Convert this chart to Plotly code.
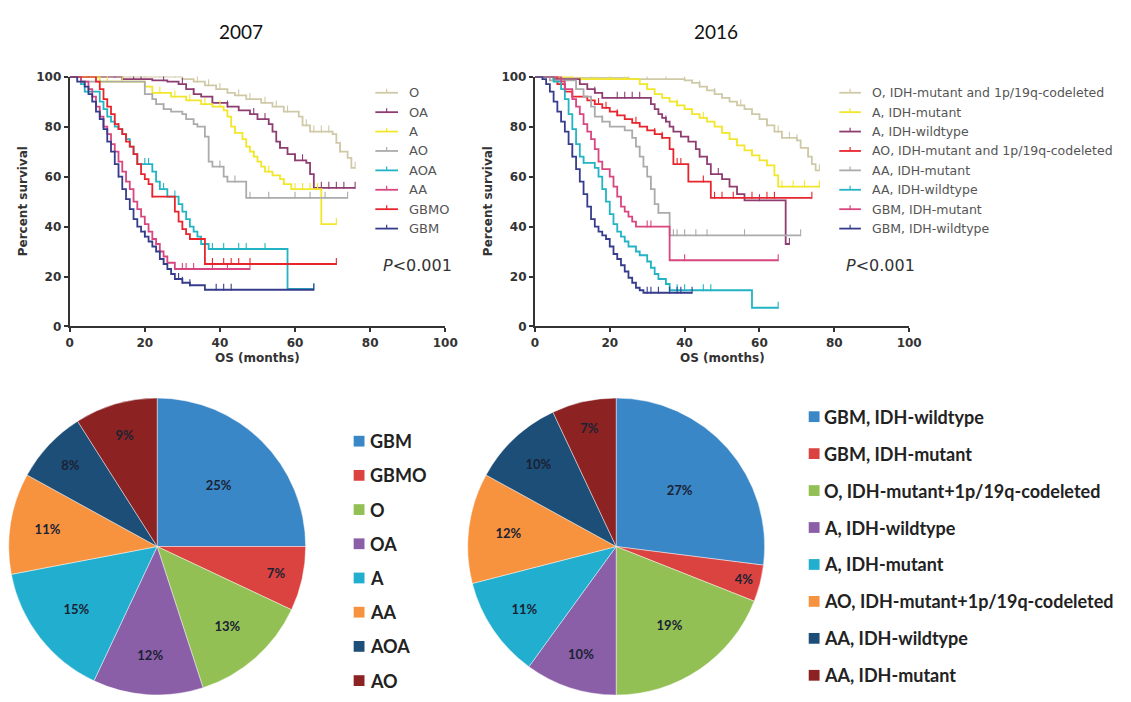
import numpy as np
import plotly.graph_objects as go

W, H = 1131, 702

# ---------------- Kaplan-Meier curves, WHO 2007 classification ----------------
groups_2007 = ["O", "OA", "A", "AO", "AOA", "AA", "GBMO", "GBM"]
colors_2007 = ["#CFC9A7", "#8E3D70", "#F2E62A", "#ABABAB", "#22B4C4", "#D8467F", "#E8242C", "#363C8C"]

O07_t = [0, 30, 33, 36, 39, 42, 44, 47, 51, 54, 57, 61, 62, 64, 70, 71, 72, 74, 75]
O07_s = [100, 99, 98, 96.5, 95, 93.5, 92.5, 91, 89.5, 88, 86, 84, 80.5, 78, 77, 73.5, 70, 67.5, 63.5]
O07_c = [4, 8, 12, 16, 20, 24, 28, 34, 37, 40, 45, 48, 52, 55, 58, 63, 65, 67, 69, 72, 76]
O07_end = 76

OA07_t = [0, 14, 22, 26, 29, 31, 33, 35, 38, 42, 45, 48, 50, 53, 54, 55, 56, 58, 60, 63, 64, 65]
OA07_s = [100, 99, 98.5, 98, 97, 95, 93, 92, 89.5, 88, 86.5, 85, 83, 81, 78, 74, 71.5, 69, 66.5, 65.5, 61, 55.5]
OA07_c = [5, 8, 12, 17, 19, 25, 30, 33, 38, 42, 49, 52, 56, 60, 62, 67, 69, 71, 73, 76]
OA07_end = 76

A07_t = [0, 8, 20, 22, 27, 31, 35, 38, 41, 42, 43, 44, 46, 47, 48, 49, 50, 51, 52, 54, 56, 57, 59, 67]
A07_s = [100, 98, 96, 93.5, 92, 90.5, 89, 88, 86.5, 84, 80, 77.5, 75, 72, 70, 68, 66, 64, 62, 60.5, 59, 57, 55, 41]
A07_c = [4, 6, 10, 14, 24, 28, 32, 36, 40, 44, 49, 53, 57, 60, 62, 64, 66, 71]
A07_end = 71

AO07_t = [0, 3, 20, 22, 23, 25, 27, 30, 31, 33, 34, 36, 37, 38, 41, 42, 47]
AO07_s = [100, 98, 93, 91, 89, 87, 86, 85, 83, 81, 80, 76, 66, 64, 60, 58, 51.5]
AO07_c = [25, 40, 44, 48, 53, 60, 64, 68, 74]
AO07_end = 74

AOA07_t = [0, 3, 4, 8, 9, 10, 11, 12, 13, 14, 15, 16, 17, 18, 22, 23, 24, 26, 29, 30, 31, 32, 33, 34, 35, 37, 58]
AOA07_s = [100, 97, 94, 90, 87, 84, 82, 80, 79, 77, 75, 72, 69, 65, 62, 58, 55, 52, 49, 46, 43, 40, 38, 36, 33, 31, 15]
AOA07_c = [20, 21, 25, 28, 38, 41, 45, 47, 52, 65]
AOA07_end = 65

AA07_t = [0, 3, 5, 6, 7, 8, 9, 10, 11, 12, 13, 14, 15, 16, 17, 18, 19, 20, 21, 22, 23, 24, 25, 26, 28]
AA07_s = [100, 98, 95, 92, 88, 84, 80, 77, 73, 70, 66, 62, 58, 55, 50, 47, 44, 41, 38, 35, 33, 30, 28, 25.5, 23]
AA07_c = [30, 31, 33, 38, 42, 48]
AA07_end = 48

GBMO07_t = [0, 7, 8, 9, 10, 11, 12, 13, 14, 15, 16, 17, 18, 19, 20, 21, 22, 28, 29, 30, 31, 32, 36]
GBMO07_s = [100, 98, 95, 91, 88, 85, 81, 79, 77, 74, 72, 69, 65, 61, 59, 57, 52, 46, 42, 39, 37, 35, 25]
GBMO07_c = [13, 22, 38, 41, 43, 45, 48, 71]
GBMO07_end = 71

GBM07_t = [0, 2, 4, 5, 6, 7, 8, 9, 10, 11, 12, 13, 14, 15, 16, 17, 18, 19, 20, 21, 22, 23, 24, 25, 26, 27, 28, 30, 32, 36]
GBM07_s = [100, 98, 96, 93, 90, 86, 83, 79, 74, 70, 65, 60, 55, 51, 47, 43, 40, 38, 36, 34, 32, 30, 27, 25, 23, 21, 19, 17.5, 16.5, 14.7]
GBM07_c = [8, 13, 20, 25, 29, 30, 32, 39, 41, 43, 65]
GBM07_end = 65

# ---------------- Kaplan-Meier curves, WHO 2016 classification ----------------
groups_2016 = ["O, IDH-mutant and 1p/19q-codeleted", "A, IDH-mutant", "A, IDH-wildtype",
               "AO, IDH-mutant and 1p/19q-codeleted", "AA, IDH-mutant", "AA, IDH-wildtype",
               "GBM, IDH-mutant", "GBM, IDH-wildtype"]
colors_2016 = ["#CFC9A7", "#F2E62A", "#8E3D70", "#E8242C", "#ABABAB", "#22B4C4", "#D8467F", "#363C8C"]

O16_t = [0, 5, 25, 40, 42, 44, 46, 48, 50, 52, 54, 56, 58, 60, 62, 64, 66, 70, 71, 73, 74, 75]
O16_s = [100, 99.5, 99, 98.5, 97.5, 96, 94.5, 93, 91.5, 90, 88.5, 87, 85, 83, 80.5, 78, 75.5, 74.5, 71.5, 68, 65, 62.5]
O16_c = [5, 10, 15, 20, 25, 30, 35, 40, 44, 48, 55, 62, 65, 68, 70, 73, 76]
O16_end = 76

Amut16_t = [0, 10, 28, 30, 32, 34, 36, 38, 40, 42, 44, 46, 48, 50, 52, 54, 56, 58, 60, 62, 64, 65]
Amut16_s = [100, 99, 97, 95, 93, 91.5, 90, 88.5, 87, 85, 83.5, 82, 80, 77.5, 75, 72.5, 70.5, 68.5, 66.5, 64.5, 60.5, 56]
Amut16_c = [4, 8, 12, 16, 20, 24, 30, 38, 45, 52, 58, 66, 69, 72, 76]
Amut16_end = 76

Awt16_t = [0, 5, 12, 14, 16, 18, 31, 32, 33, 34, 35, 36, 37, 39, 41, 43, 44, 46, 47, 50, 52, 54, 56, 67]
Awt16_s = [100, 99, 97, 95, 93.5, 91.5, 89, 87, 85, 83.5, 82, 80, 78, 76, 74, 71, 68, 65, 61, 59, 56, 53, 50.5, 33]
Awt16_c = [16, 22, 24, 26, 28, 35, 44, 49, 60, 68]
Awt16_end = 68

AO16_t = [0, 6, 8, 10, 14, 16, 18, 20, 22, 24, 26, 28, 30, 32, 34, 36, 37, 41, 47]
AO16_s = [100, 97, 94, 92, 90.5, 89, 87.5, 86, 84.5, 83, 81.5, 80, 78.5, 77, 75.5, 71, 65, 58, 51.5]
AO16_c = [10, 17, 19, 22, 27, 32, 34, 38, 39, 45, 48, 50, 53, 58, 62, 64, 74]
AO16_end = 74

AAmut16_t = [0, 4, 11, 13, 15, 16, 18, 20, 24, 26, 27, 28, 29, 30, 31, 32, 33, 36]
AAmut16_s = [100, 98.5, 95, 92, 88, 84, 82, 80, 78.5, 75.5, 72, 68, 64, 60, 55, 49, 45.5, 36.5]
AAmut16_c = [18, 33, 37, 38, 40, 43, 46, 56, 71]
AAmut16_end = 71

AAwt16_t = [0, 5, 7, 8, 9, 10, 11, 12, 13, 16, 17, 18, 19, 20, 21, 22, 23, 24, 25, 27, 28, 30, 31, 32, 33, 35, 36, 58]
AAwt16_s = [100, 98, 95, 91, 85, 79, 73, 68, 65.5, 63.5, 60, 55, 50, 45, 41, 38, 36, 34, 32, 30, 28.5, 26, 23.5, 21, 19, 17, 14.5, 7.5]
AAwt16_c = [13, 38, 40, 45, 47, 65]
AAwt16_end = 65

GBMmut16_t = [0, 7, 8, 10, 11, 12, 13, 14, 15, 16, 17, 18, 20, 21, 22, 23, 24, 25, 26, 27, 36]
GBMmut16_s = [100, 98, 95, 91, 88, 85, 81, 78, 75, 71, 66, 63, 60, 56, 52, 48, 46, 44, 42, 40, 26.5]
GBMmut16_c = [30, 31, 40, 65]
GBMmut16_end = 65

GBMwt16_t = [0, 2, 3, 4, 5, 6, 7, 8, 9, 10, 11, 12, 13, 14, 15, 16, 17, 18, 19, 20, 21, 22, 23, 24, 25, 26, 27, 28, 29]
GBMwt16_s = [100, 99, 97, 94, 90, 86, 82, 78, 73, 68, 63, 58, 53, 48, 43, 40, 38, 36.5, 35, 32, 29, 27, 24.5, 22, 19.5, 17.5, 15.5, 14.5, 13.5]
GBMwt16_c = [10, 30, 31, 33, 36, 38, 39, 42]
GBMwt16_end = 42

curves_2007 = [
    (O07_t, O07_s, O07_c, O07_end), (OA07_t, OA07_s, OA07_c, OA07_end),
    (A07_t, A07_s, A07_c, A07_end), (AO07_t, AO07_s, AO07_c, AO07_end),
    (AOA07_t, AOA07_s, AOA07_c, AOA07_end), (AA07_t, AA07_s, AA07_c, AA07_end),
    (GBMO07_t, GBMO07_s, GBMO07_c, GBMO07_end), (GBM07_t, GBM07_s, GBM07_c, GBM07_end),
]
curves_2016 = [
    (O16_t, O16_s, O16_c, O16_end), (Amut16_t, Amut16_s, Amut16_c, Amut16_end),
    (Awt16_t, Awt16_s, Awt16_c, Awt16_end), (AO16_t, AO16_s, AO16_c, AO16_end),
    (AAmut16_t, AAmut16_s, AAmut16_c, AAmut16_end), (AAwt16_t, AAwt16_s, AAwt16_c, AAwt16_end),
    (GBMmut16_t, GBMmut16_s, GBMmut16_c, GBMmut16_end), (GBMwt16_t, GBMwt16_s, GBMwt16_c, GBMwt16_end),
]

# ---------------- Case distribution (percent) ----------------
pie07_labels = ["GBM", "GBMO", "O", "OA", "A", "AA", "AOA", "AO"]
pie07_pct = [25, 7, 13, 12, 15, 11, 8, 9]
pie16_labels = ["GBM, IDH-wildtype", "GBM, IDH-mutant", "O, IDH-mutant+1p/19q-codeleted",
                "A, IDH-wildtype", "A, IDH-mutant", "AO, IDH-mutant+1p/19q-codeleted",
                "AA, IDH-wildtype", "AA, IDH-mutant"]
pie16_pct = [27, 4, 19, 10, 11, 12, 10, 7]
pie_colors = ["#3A87C8", "#DB4340", "#93C054", "#8A5FA8", "#22AFCF", "#F7923F", "#1C4E78", "#8C2222"]


def px_x(x):
    return x / W


def px_y(y):
    return 1 - y / H


def step_value(t, s, x):
    idx = np.searchsorted(np.asarray(t, float), np.asarray(x, float), side="right") - 1
    return np.asarray(s, float)[idx]


fig = go.Figure()

km_panels = [
    (curves_2007, colors_2007, groups_2007, "x", "y"),
    (curves_2016, colors_2016, groups_2016, "x2", "y2"),
]
for curves, cols, names, xa, ya in km_panels:
    for (t, s, c, end), col, name in zip(curves, cols, names):
        fig.add_trace(go.Scatter(
            x=list(t) + [end], y=list(s) + [s[-1]], mode="lines",
            line=dict(color=col, width=1.8, shape="hv"),
            xaxis=xa, yaxis=ya, showlegend=False, name=name, hoverinfo="skip"))
        fig.add_trace(go.Scatter(
            x=c, y=step_value(t, s, c) + 1.0, mode="markers",
            marker=dict(symbol="line-ns", size=5, line=dict(color=col, width=1.1)),
            xaxis=xa, yaxis=ya, showlegend=False, hoverinfo="skip"))

# Pie charts
pie_specs = [
    (pie07_labels, pie07_pct, [px_x(4), px_x(307)]),
    (pie16_labels, pie16_pct, [px_x(470), px_x(773)]),
]
for labels, pct, xdom in pie_specs:
    fig.add_trace(go.Pie(
        labels=labels, values=pct, sort=False, direction="clockwise", rotation=0,
        marker=dict(colors=pie_colors, line=dict(color="rgba(255,255,255,0.55)", width=0.8)),
        texttemplate="%{value}%", textposition="inside", insidetextorientation="horizontal",
        textfont=dict(family="Lato", size=13, color="#1A2233", weight="bold"),
        domain=dict(x=xdom, y=[0, px_y(399)]), showlegend=False, hoverinfo="skip"))

TICK_FONT = "DejaVu Sans"
axis_common = dict(
    range=[0, 100], tickvals=[0, 20, 40, 60, 80, 100], ticks="outside", ticklen=4, tickwidth=2,
    tickcolor="#333", showline=True, linewidth=2, linecolor="#333", showgrid=False, zeroline=False,
    tickfont=dict(family=TICK_FONT, size=12, color="#333", weight="bold"), fixedrange=True)

y_dom = [px_y(326), px_y(71)]
fig.update_layout(
    width=W, height=H, margin=dict(l=0, r=0, t=0, b=0),
    paper_bgcolor="white", plot_bgcolor="white", showlegend=False,
    xaxis=dict(domain=[px_x(66.7), px_x(448)], anchor="y", **axis_common),
    yaxis=dict(domain=y_dom, anchor="x", **axis_common),
    xaxis2=dict(domain=[px_x(539), px_x(919)], anchor="y2", **axis_common),
    yaxis2=dict(domain=y_dom, anchor="x2", **axis_common),
)

annotations = []
shapes = []


def label(text, x, y, size, family=TICK_FONT, color="#333", xanchor="center", weight="normal", **kw):
    annotations.append(dict(text=text, x=px_x(x), y=px_y(y), xref="paper", yref="paper",
                            xanchor=xanchor, yanchor="middle", showarrow=False,
                            font=dict(family=family, size=size, color=color, weight=weight), **kw))


# Panel titles, axis titles, p-values
for title, cx in [("2007", 241), ("2016", 723)]:
    label(title, cx, 25, 19, family="Lato", color="#111")
for x0, x1, ylab_x, p_x in [(66.7, 448, 19, 383), (539, 919, 491, 853)]:
    label("OS (months)", (x0 + x1) / 2, 358, 12, weight="bold")
    label("Percent survival", ylab_x, 198.5, 12, weight="bold", textangle=-90)
    label("<i>P</i><0.001", p_x, 264, 16, xanchor="left")

# Survival legends (line sample with censor tick)
for names, cols, lx0, lx1, tx, fs in [(groups_2007, colors_2007, 377, 400, 409, 13),
                                      (groups_2016, colors_2016, 848, 870, 879, 12.5)]:
    for i, (name, col) in enumerate(zip(names, cols)):
        yy = 87.5 + 19.8 * i
        shapes.append(dict(type="line", xref="paper", yref="paper", x0=px_x(lx0), x1=px_x(lx1),
                           y0=px_y(yy), y1=px_y(yy), line=dict(color=col, width=1.8)))
        xm = (lx0 + lx1) / 2
        shapes.append(dict(type="line", xref="paper", yref="paper", x0=px_x(xm), x1=px_x(xm),
                           y0=px_y(yy), y1=px_y(yy - 4), line=dict(color=col, width=1.2)))
        label(name, tx, yy, fs, color="#555", xanchor="left")

# Pie legends (colour squares)
for labels, sq_x, tx, y0, dy in [(pie07_labels, 355, 370, 443, 34.9),
                                 (pie16_labels, 817, 830, 418, 37.7)]:
    for i, (lab, col) in enumerate(zip(labels, pie_colors)):
        yy = y0 + dy * i
        shapes.append(dict(type="rect", xref="paper", yref="paper", x0=px_x(sq_x), x1=px_x(sq_x + 11),
                           y0=px_y(yy + 5.5), y1=px_y(yy - 5.5), fillcolor=col, line=dict(width=0)))
        label(lab, tx, yy, 18, family="Lato", color="#222", xanchor="left", weight="bold")

fig.update_layout(annotations=annotations, shapes=shapes)
fig.write_html("out.html")
